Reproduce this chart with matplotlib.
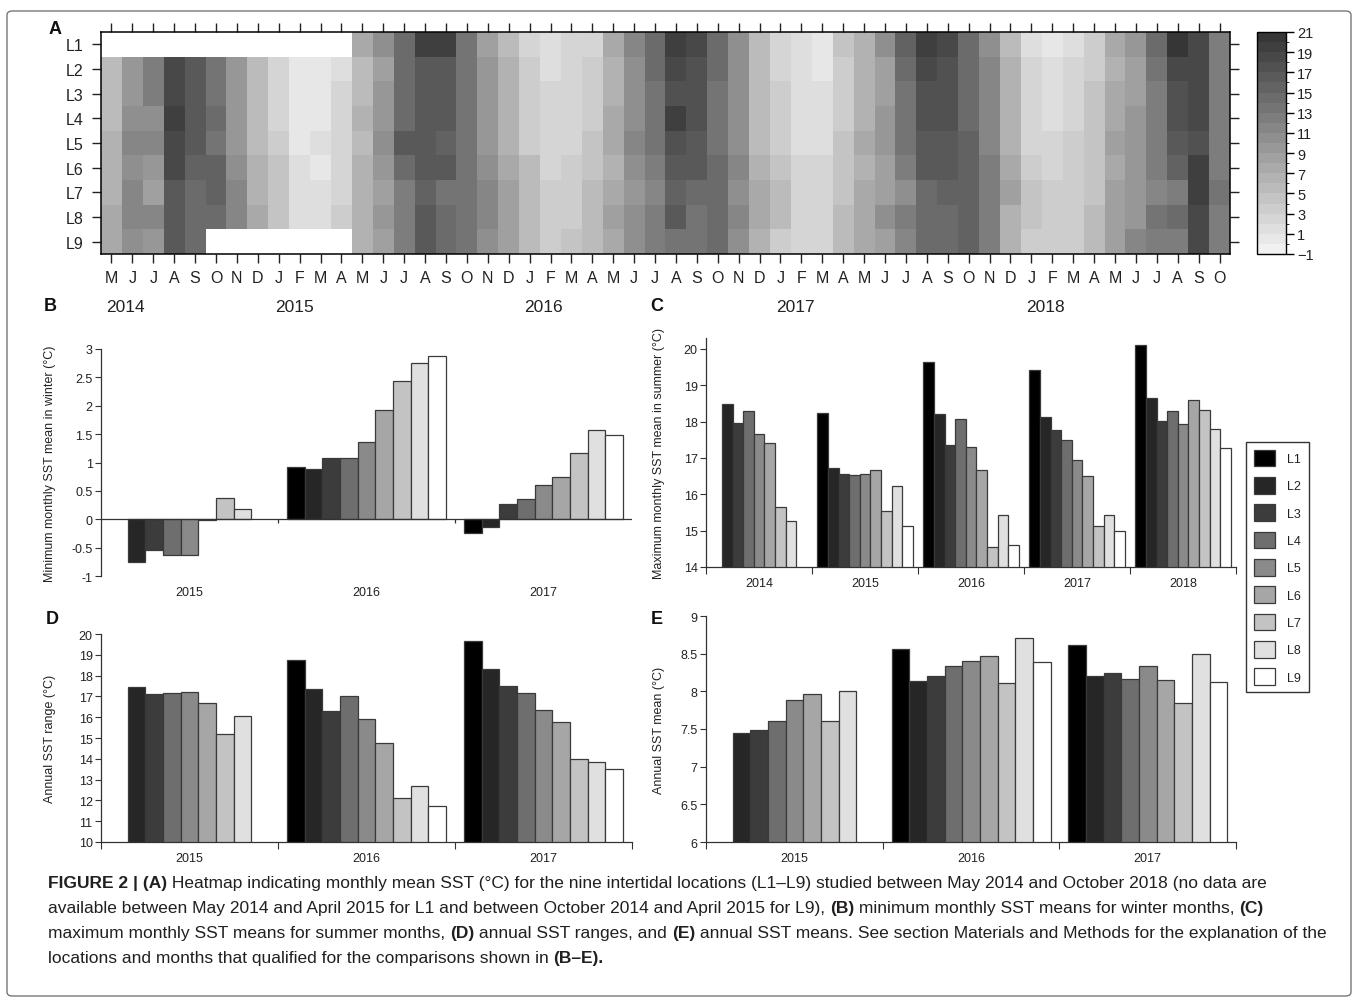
import numpy as np
import matplotlib.pyplot as plt
import matplotlib.ticker as mticker
from matplotlib.colors import ListedColormap, BoundaryNorm
from matplotlib.patches import Patch, FancyBboxPatch

plt.rcParams['font.family'] = ['Liberation Sans', 'DejaVu Sans']
plt.rcParams['axes.unicode_minus'] = False

nan = np.nan

# ---------------- panel A data: monthly mean SST, May 2014 - Oct 2018 ----------------
locations = ['L1', 'L2', 'L3', 'L4', 'L5', 'L6', 'L7', 'L8', 'L9']
month_letters = ['J', 'F', 'M', 'A', 'M', 'J', 'J', 'A', 'S', 'O', 'N', 'D']
month_labels = [month_letters[(4 + i) % 12] for i in range(54)]
year_labels = ['2014', '2015', '2016', '2017', '2018']
year_label_pos = [0.65, 8.75, 20.65, 32.7, 44.65]

sst_L1 = [nan, nan, nan, nan, nan, nan, nan, nan, nan, nan, nan, nan,
          7, 10, 14, 19, 19, 13, 8, 5, 2, 1, 2, 2, 7, 11, 14, 19, 18, 14,
          10, 5, 2, 1, 0, 4, 6, 10, 15, 19, 18, 14, 10, 5, 1, 0, 1, 3, 7, 9, 14, 20, 18, 12]
sst_L2 = [5, 9, 12, 18, 16, 13, 9, 5, 2, 0, 0, 1, 5, 8, 14, 16, 16, 13, 9, 6, 3, 1, 2, 3,
          6, 10, 14, 18, 17, 14, 10, 5, 2, 1, 0, 3, 6, 8, 14, 18, 17, 14, 11, 6, 2, 1, 2, 3,
          6, 8, 13, 18, 18, 12]
sst_L3 = [5, 9, 12, 18, 16, 13, 9, 5, 2, 0, 0, 2, 5, 9, 14, 16, 16, 13, 9, 6, 3, 2, 2, 3,
          6, 10, 13, 17, 17, 13, 10, 5, 3, 1, 1, 3, 6, 8, 13, 17, 17, 14, 11, 6, 2, 1, 2, 4,
          7, 8, 12, 17, 18, 12]
sst_L4 = [5, 10, 10, 19, 16, 14, 9, 5, 2, 0, 0, 2, 6, 9, 14, 16, 16, 13, 9, 6, 3, 2, 2, 3,
          7, 10, 13, 19, 17, 13, 10, 5, 3, 1, 1, 3, 6, 9, 13, 17, 17, 14, 11, 6, 2, 1, 2, 4,
          7, 9, 12, 17, 18, 12]
sst_L5 = [6, 11, 11, 18, 16, 13, 9, 5, 3, 0, 1, 2, 5, 10, 16, 16, 15, 13, 9, 6, 3, 2, 2, 4,
          7, 11, 13, 17, 16, 13, 10, 5, 3, 1, 1, 4, 7, 9, 13, 16, 16, 15, 11, 6, 2, 2, 3, 4,
          8, 9, 12, 16, 17, 12]
sst_L6 = [6, 10, 9, 18, 15, 15, 10, 6, 4, 1, 0, 2, 6, 9, 14, 16, 16, 13, 10, 7, 5, 2, 3, 4,
          6, 10, 12, 16, 16, 14, 11, 6, 4, 2, 2, 4, 6, 8, 12, 16, 16, 15, 12, 7, 3, 2, 3, 4,
          7, 9, 12, 15, 19, 12]
sst_L7 = [6, 11, 8, 16, 14, 15, 11, 6, 4, 1, 1, 2, 6, 8, 12, 15, 13, 13, 11, 8, 5, 3, 3, 5,
          7, 9, 11, 15, 14, 14, 10, 7, 5, 2, 2, 4, 7, 8, 10, 14, 15, 15, 12, 8, 4, 3, 3, 4,
          8, 9, 11, 12, 19, 13]
sst_L8 = [7, 11, 11, 16, 14, 14, 11, 7, 4, 1, 1, 3, 6, 9, 12, 16, 14, 13, 11, 8, 5, 3, 3, 5,
          8, 10, 12, 16, 13, 14, 11, 7, 5, 2, 2, 5, 7, 10, 12, 14, 14, 15, 12, 6, 4, 3, 3, 5,
          8, 9, 13, 14, 18, 12]
sst_L9 = [7, 10, 9, 16, 14, nan, nan, nan, nan, nan, nan, nan,
          6, 8, 12, 16, 14, 13, 10, 8, 5, 3, 4, 5, 7, 10, 12, 13, 13, 14,
          10, 6, 3, 2, 2, 5, 7, 8, 11, 14, 14, 15, 12, 6, 3, 3, 3, 5, 8, 11, 12, 12, 18, 12]

# ---------------- panels B-E data (one list per year, values for L1..L9) ----------------
winter_years = ['2015', '2016', '2017']
winter_min = [[nan, -0.75, -0.54, -0.63, -0.63, -0.02, 0.38, 0.18, nan],
              [0.92, 0.88, 1.08, 1.08, 1.36, 1.92, 2.44, 2.75, 2.88],
              [-0.24, -0.14, 0.26, 0.36, 0.61, 0.75, 1.16, 1.57, 1.49]]

summer_years = ['2014', '2015', '2016', '2017', '2018']
summer_max = [[nan, 18.48, 17.95, 18.28, 17.67, 17.42, 15.64, 15.26, nan],
              [18.24, 16.71, 16.55, 16.54, 16.56, 16.67, 15.55, 16.22, 15.13],
              [19.63, 18.21, 17.36, 18.07, 17.29, 16.67, 14.55, 15.43, 14.60],
              [19.42, 18.14, 17.76, 17.50, 16.95, 16.50, 15.12, 15.43, 14.99],
              [20.11, 18.66, 18.03, 18.28, 17.94, 18.59, 18.31, 17.79, 17.28]]

annual_years = ['2015', '2016', '2017']
annual_range = [[nan, 17.46, 17.11, 17.15, 17.19, 16.69, 15.18, 16.06, nan],
                [18.74, 17.35, 16.29, 17.00, 15.92, 14.77, 12.11, 12.67, 11.72],
                [19.66, 18.30, 17.51, 17.14, 16.33, 15.75, 13.97, 13.86, 13.49]]
annual_mean = [[nan, 7.45, 7.49, 7.61, 7.88, 7.96, 7.61, 8.00, nan],
               [8.56, 8.14, 8.20, 8.33, 8.40, 8.47, 8.11, 8.71, 8.39],
               [8.61, 8.21, 8.25, 8.17, 8.33, 8.15, 7.85, 8.49, 8.12]]

loc_colors = ['#000000', '#262626', '#3c3c3c', '#6e6e6e', '#8a8a8a',
              '#a6a6a6', '#c3c3c3', '#e0e0e0', '#ffffff']

W, H = 1358, 1003
TXT = '#222222'
EDGE = '#3a3a3a'


def box(x0, y0, x1, y1):
    # pixel box (top-left origin) -> figure fraction rect
    return [x0 / W, 1 - y1 / H, (x1 - x0) / W, (y1 - y0) / H]


fig = plt.figure(figsize=(W / 100, H / 100), dpi=100)

# ---------------- A: heatmap ----------------
sst = np.array([sst_L1, sst_L2, sst_L3, sst_L4, sst_L5, sst_L6, sst_L7, sst_L8, sst_L9], dtype=float)
levels = np.arange(-1, 22)
greys = [(245 - (k + 0.5) * 195 / 22) / 255 for k in range(22)]
cmap = ListedColormap([(g, g, g) for g in greys])
cmap.set_bad('white')
norm = BoundaryNorm(levels, cmap.N)

axA = fig.add_axes(box(101, 33, 1230, 255))
im = axA.imshow(np.ma.masked_invalid(sst), cmap=cmap, norm=norm, aspect='auto', interpolation='nearest')
axA.set_yticks(range(9))
axA.set_yticklabels(locations)
axA.set_xticks(range(54))
axA.set_xticklabels(month_labels)
axA.tick_params(which='both', direction='out', length=6.5, width=1, color='#222222',
                top=True, right=True, labeltop=False, labelright=False,
                labelsize=11.5, labelcolor=TXT)
axA.tick_params(axis='x', pad=5)
axA.tick_params(axis='y', pad=6)
for s in axA.spines.values():
    s.set_linewidth(1.1)
for yl, xp in zip(year_labels, year_label_pos):
    axA.text(xp, -0.235, yl, transform=axA.get_xaxis_transform(), ha='center', va='center',
             fontsize=12.5, color=TXT)

cax = fig.add_axes(box(1257, 33, 1286, 255))
cb = fig.colorbar(im, cax=cax, ticks=list(range(-1, 22, 2)))
cb.ax.set_yticklabels(['\u22121' if t < 0 else str(t) for t in range(-1, 22, 2)])
cb.ax.tick_params(length=6, width=1, labelsize=10.5, labelcolor=TXT, pad=2)
cb.outline.set_linewidth(1)


# ---------------- bar panels ----------------
def bar_panel(ax, groups, table, ylim, yticks, ylabel, label_x, zero_axis=False):
    xg = np.arange(len(groups))
    for j in range(len(locations)):
        heights = [row[j] for row in table]
        ax.bar(xg - 0.4 + 0.1 * j, heights, width=0.1, color=loc_colors[j],
               edgecolor=EDGE, linewidth=0.9, zorder=2)
    ax.set_xlim(-0.5, len(groups) - 0.5)
    ax.set_ylim(*ylim)
    ax.set_yticks(yticks)
    ax.yaxis.set_major_formatter(mticker.FuncFormatter(lambda v, p: f'{v:g}'))
    ax.set_xticks(xg)
    ax.set_xticklabels(groups)
    ax.tick_params(axis='x', which='major', length=0, pad=7, labelsize=9, labelcolor=TXT)
    ax.tick_params(axis='y', length=4, width=0.8, color='#333333', labelsize=9,
                   labelcolor=TXT, pad=2)
    for s in ('top', 'right'):
        ax.spines[s].set_visible(False)
    ax.spines['left'].set_linewidth(0.9)
    ax.spines['left'].set_color('#333333')
    if zero_axis:
        ax.spines['bottom'].set_visible(False)
        ax.axhline(0, color='#333333', lw=0.9, zorder=3)
        ax.vlines(np.arange(1, len(groups)) - 0.5, -0.06, 0, color='#333333', lw=0.9)
    else:
        ax.spines['bottom'].set_linewidth(0.9)
        ax.spines['bottom'].set_color('#333333')
        ax.set_xticks(np.arange(len(groups) + 1) - 0.5, minor=True)
        ax.tick_params(axis='x', which='minor', length=5, width=0.8, color='#333333')
    ax.set_ylabel(ylabel, fontsize=9, color=TXT)
    ax.yaxis.set_label_coords(label_x, 0.5)


axB = fig.add_axes(box(101, 350, 632, 577))
bar_panel(axB, winter_years, winter_min, (-1, 3), np.arange(-1, 3.01, 0.5),
          'Minimum monthly SST mean in winter (\u00b0C)', -0.085, zero_axis=True)

axC = fig.add_axes(box(706, 339, 1236, 568))
bar_panel(axC, summer_years, summer_max, (14, 20.3), range(14, 21),
          'Maximum monthly SST mean in summer (\u00b0C)', -0.078)

axD = fig.add_axes(box(101, 635, 632, 843))
bar_panel(axD, annual_years, annual_range, (10, 20), range(10, 21),
          'Annual SST range (\u00b0C)', -0.085)

axE = fig.add_axes(box(706, 617, 1236, 843))
bar_panel(axE, annual_years, annual_mean, (6, 9), np.arange(6, 9.01, 0.5),
          'Annual SST mean (\u00b0C)', -0.078)

handles = [Patch(facecolor=c, edgecolor=EDGE, linewidth=0.9, label=l)
           for c, l in zip(loc_colors, locations)]
fig.legend(handles=handles, loc='upper left', bbox_to_anchor=(1246 / W, 1 - 443 / H),
           fontsize=9, handlelength=1.75, handleheight=1.68, labelspacing=0.85,
           borderpad=0.6, handletextpad=0.95, borderaxespad=0, frameon=True,
           fancybox=False, edgecolor='#333333', framealpha=1, labelcolor=TXT)

# panel letters
for letter, (px, py) in zip('ABCDE', [(55, 30), (50, 307), (657, 307), (52, 620), (657, 620)]):
    fig.text(px / W, 1 - py / H, letter, fontsize=13, fontweight='bold', ha='center',
             va='center', color='#111111')

# ---------------- caption ----------------
cap_font = ['Liberation Sans Narrow', 'Liberation Sans', 'DejaVu Sans']
cap_lines = [
    [('FIGURE 2 | (A)', True),
     (' Heatmap indicating monthly mean SST (\u00b0C) for the nine intertidal locations (L1\u2013L9) '
      'studied between May 2014 and October 2018 (no data are', False)],
    [('available between May 2014 and April 2015 for L1 and between October 2014 and April 2015 '
      'for L9), ', False), ('(B)', True),
     (' minimum monthly SST means for winter months, ', False), ('(C)', True)],
    [('maximum monthly SST means for summer months, ', False), ('(D)', True),
     (' annual SST ranges, and ', False), ('(E)', True),
     (' annual SST means. See section Materials and Methods for the explanation of the', False)],
    [('locations and months that qualified for the comparisons shown in ', False),
     ('(B\u2013E).', True)],
]
cap_baselines = [888, 913, 938, 963]

renderer = fig.canvas.get_renderer()
probe = fig.text(0, 0, '', family=cap_font)


def seg_width(s, size, bold):
    # width including leading/trailing spaces, measured between two bars
    probe.set_fontsize(size)
    probe.set_fontweight('bold' if bold else 'normal')
    probe.set_text('|' + s + '|')
    w1 = probe.get_window_extent(renderer).width
    probe.set_text('||')
    return w1 - probe.get_window_extent(renderer).width


# scale the caption so the third (longest) line spans the same width as in the original
cap_size = 10 * 1280 / sum(seg_width(s, 10, b) for s, b in cap_lines[2])
advances = [[seg_width(s, cap_size, b) for s, b in line] for line in cap_lines]
probe.remove()

for line, adv, yb in zip(cap_lines, advances, cap_baselines):
    x = 48
    for (s, b), w in zip(line, adv):
        fig.text(x / W, 1 - yb / H, s, family=cap_font, fontsize=cap_size,
                 fontweight='bold' if b else 'normal', ha='left', va='baseline', color='#231f20')
        x += w

# outer frame
fig.add_artist(FancyBboxPatch((7 / W, 6 / H), 1344 / W, 985 / H,
                              boxstyle='round,pad=0,rounding_size=0.004',
                              transform=fig.transFigure, fill=False, ec='#777777', lw=1))

fig.savefig('out.png', dpi=100)
